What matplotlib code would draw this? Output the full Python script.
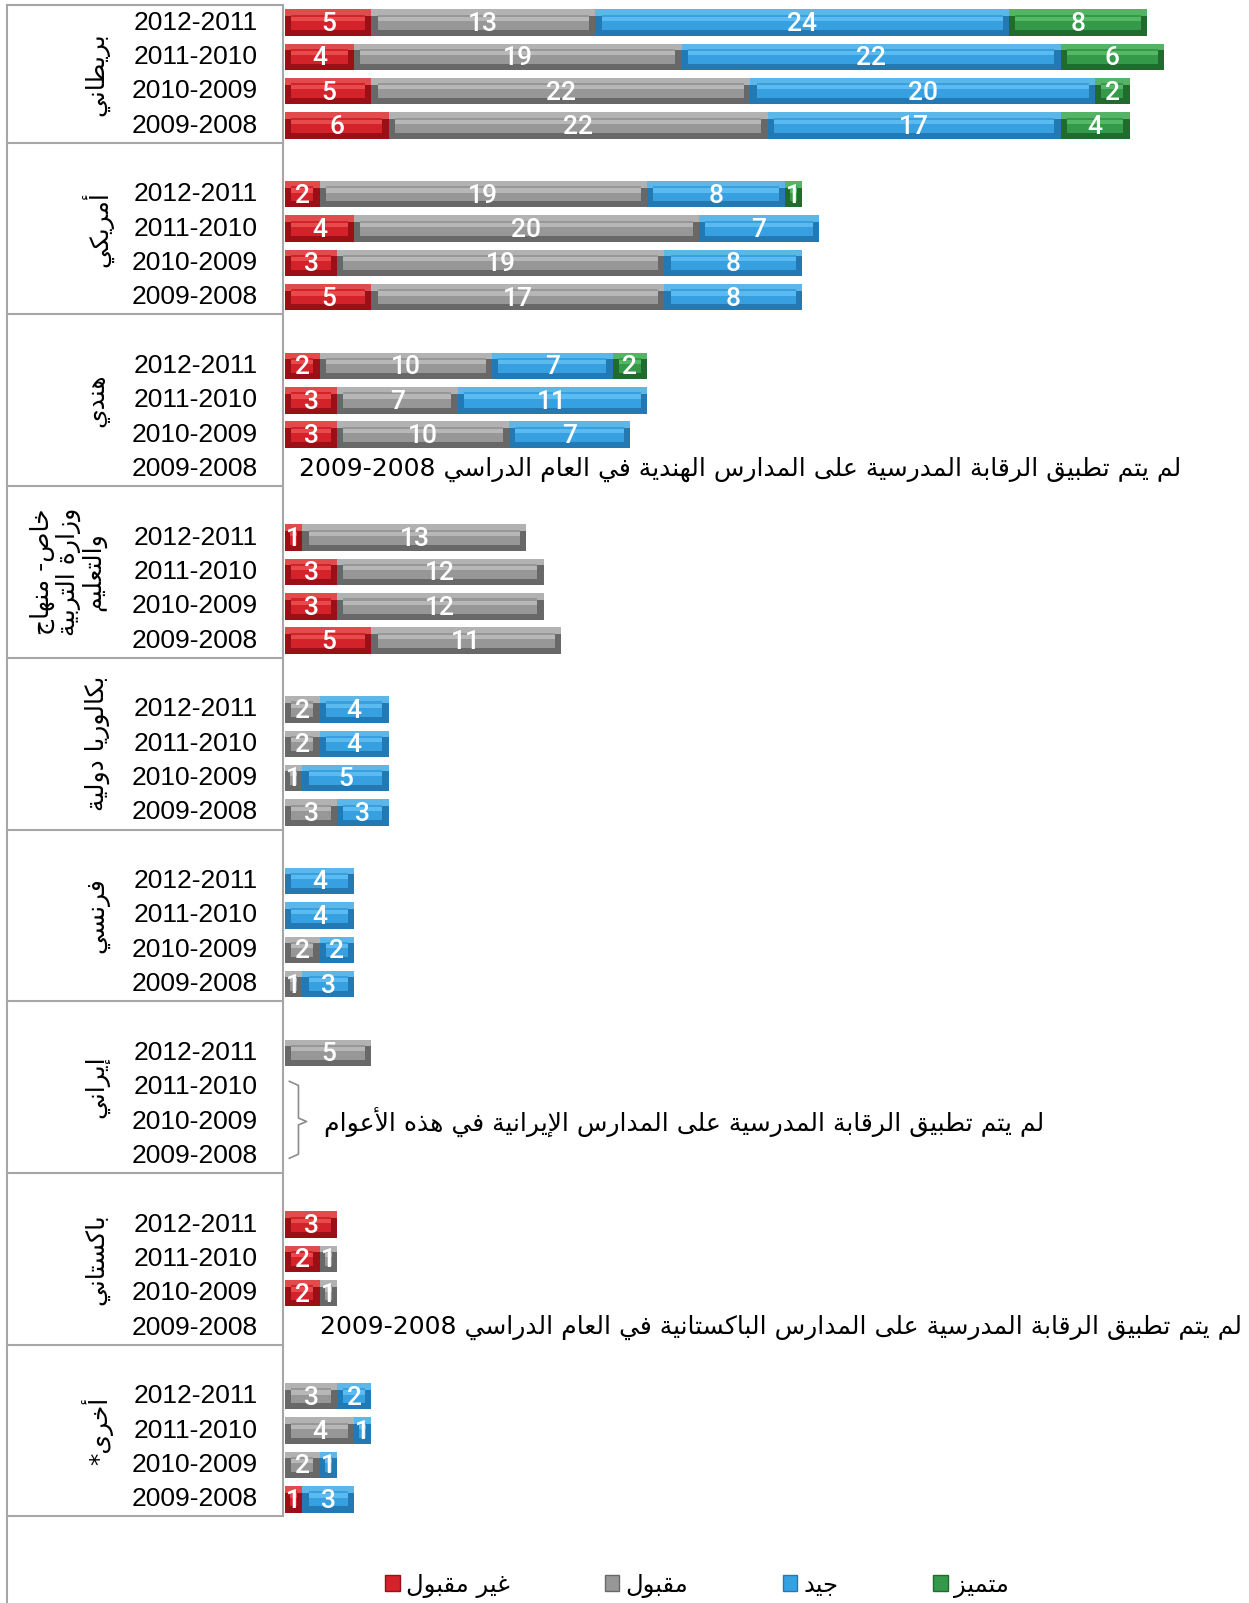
import re
import matplotlib.pyplot as plt
import matplotlib.patches as mpatches

groups = ['بريطاني', 'أمريكي', 'هندي', 'خاص- منهاج\nوزارة التربية\nوالتعليم',
          'بكالوريا دولية', 'فرنسي', 'إيراني', 'باكستاني', 'أخرى*']
years = ['2012-2011', '2011-2010', '2010-2009', '2009-2008']
categories = ['غير مقبول', 'مقبول', 'جيد', 'متميز']

# one row of 4 values (years top to bottom) per group
unacceptable = [[5, 4, 5, 6], [2, 4, 3, 5], [2, 3, 3, 0], [1, 3, 3, 5], [0, 0, 0, 0],
                [0, 0, 0, 0], [0, 0, 0, 0], [3, 2, 2, 0], [0, 0, 0, 1]]
acceptable = [[13, 19, 22, 22], [19, 20, 19, 17], [10, 7, 10, 0], [13, 12, 12, 11], [2, 2, 1, 3],
              [0, 0, 2, 1], [5, 0, 0, 0], [0, 1, 1, 0], [3, 4, 2, 0]]
good = [[24, 22, 20, 17], [8, 7, 8, 8], [7, 11, 7, 0], [0, 0, 0, 0], [4, 4, 5, 3],
        [4, 4, 2, 3], [0, 0, 0, 0], [0, 0, 0, 0], [2, 1, 1, 3]]
outstanding = [[8, 6, 2, 4], [1, 0, 0, 0], [2, 0, 0, 0], [0, 0, 0, 0], [0, 0, 0, 0],
               [0, 0, 0, 0], [0, 0, 0, 0], [0, 0, 0, 0], [0, 0, 0, 0]]

note_india = 'لم يتم تطبيق الرقابة المدرسية على المدارس الهندية في العام الدراسي 2009-2008'
note_iran = 'لم يتم تطبيق الرقابة المدرسية على المدارس الإيرانية في هذه الأعوام'
note_pakistan = 'لم يتم تطبيق الرقابة المدرسية على المدارس الباكستانية في العام الدراسي 2009-2008'

# matplotlib does no arabic shaping, so map letters to presentation forms and reverse
DUAL = dict(zip('بتثجحخسشصضطظعغفقكلمنهيئ',
                [0xFE8F, 0xFE95, 0xFE99, 0xFE9D, 0xFEA1, 0xFEA5, 0xFEB1, 0xFEB5, 0xFEB9, 0xFEBD,
                 0xFEC1, 0xFEC5, 0xFEC9, 0xFECD, 0xFED1, 0xFED5, 0xFED9, 0xFEDD, 0xFEE1, 0xFEE5,
                 0xFEE9, 0xFEF1, 0xFE89]))
RIGHT = dict(zip('آأؤإاةدذرزوى',
                 [0xFE81, 0xFE83, 0xFE85, 0xFE87, 0xFE8D, 0xFE93, 0xFEA9, 0xFEAB, 0xFEAD, 0xFEAF,
                  0xFEED, 0xFEEF]))
LAMALEF = dict(zip('آأإا', [0xFEF5, 0xFEF7, 0xFEF9, 0xFEFB]))


def shape(s):
    out = []
    i = 0
    while i < len(s):
        c = s[i]
        prev_joins = i > 0 and s[i - 1] in DUAL
        nxt = s[i + 1] if i + 1 < len(s) else ''
        if c == 'ل' and nxt in LAMALEF:
            out.append(chr(LAMALEF[nxt] + (1 if prev_joins else 0)))
            i += 2
            continue
        if c in DUAL:
            next_joins = nxt in DUAL or nxt in RIGHT
            off = {(False, False): 0, (True, False): 1, (False, True): 2, (True, True): 3}[(prev_joins, next_joins)]
            out.append(chr(DUAL[c] + off))
        elif c in RIGHT:
            out.append(chr(RIGHT[c] + (1 if prev_joins else 0)))
        else:
            out.append(c)
        i += 1
    return ''.join(out)


def rtl(text):
    lines = []
    for line in text.split('\n'):
        v = shape(line)[::-1]
        v = re.sub(r'[0-9]+(?:-[0-9]+)*', lambda m: m.group(0)[::-1], v)
        lines.append(v)
    return '\n'.join(lines)


series = [unacceptable, acceptable, good, outstanding]
base_colors = ['#d3222a', '#979797', '#36a0e0', '#35994a']
light_colors = ['#f25a5a', '#c6c6c6', '#6cc6f6', '#62c673']
dark_colors = ['#9a1016', '#686868', '#2379b4', '#226b2e']

fig = plt.figure(figsize=(12.49, 16.03), dpi=100)
ax = fig.add_axes([0, 0, 1, 1])
ax.set_xlim(-16.55, 55.93)
ax.set_ylim(47.02, 0.344)
ax.axis('off')

ngroups = len(groups)
slots = [5 * g + 1 + j for g in range(ngroups) for j in range(len(years))]

lefts = [0] * len(slots)
bar_h = 0.77
for k, data in enumerate(series):
    vals = [v for row in data for v in row]
    ys = [s for s, v in zip(slots, vals) if v > 0]
    ws = [v for v in vals if v > 0]
    ls = [l for l, v in zip(lefts, vals) if v > 0]
    ins = [min(0.36, w * 0.3) for w in ws]
    # bevelled look: darker frame, lighter top edge, flat middle, highlight band
    ax.barh(ys, ws, left=ls, height=bar_h, color=dark_colors[k], linewidth=0)
    ax.barh([y - 0.29 for y in ys], ws, left=ls, height=0.19, color=light_colors[k],
            linewidth=0, alpha=0.8)
    ax.barh([y - 0.01 for y in ys], [w - 2 * d for w, d in zip(ws, ins)],
            left=[l + d for l, d in zip(ls, ins)], height=0.44, color=base_colors[k], linewidth=0)
    ax.barh([y - 0.11 for y in ys], [w - 2 * d for w, d in zip(ws, ins)],
            left=[l + d for l, d in zip(ls, ins)], height=0.12, color=light_colors[k],
            linewidth=0, alpha=0.7)
    for y, w, l in zip(ys, ws, ls):
        ax.text(l + w / 2, y + 0.04, str(w), ha='center', va='center', color='white',
                fontsize=19, family='Roboto', fontweight='medium')
    lefts = [l + v for l, v in zip(lefts, vals)]

# left panel with group and year labels
line_c = '#a6a6a6'
x_left, x_right = -16.14, -0.12
ax.plot([x_left, x_left], [0.5, 47.02], color=line_c, lw=1.5, clip_on=False)
ax.plot([x_right, x_right], [0.5, 5 * ngroups - 0.5], color=line_c, lw=1.5)
for g in range(ngroups + 1):
    yb = 0.5 if g == 0 else 5 * g - 0.5
    ax.plot([x_left, x_right], [yb, yb], color=line_c, lw=1.5)

for g, name in enumerate(groups):
    yc = 2.5 if g == 0 else 5 * g + 2
    ax.text(-10.92 if '\n' not in name else -12.6, yc, rtl(name), rotation=90, ha='center',
            va='center', fontsize=18, family='DejaVu Sans', linespacing=1.0)
    for j, yr in enumerate(years):
        ax.text(-1.6, 5 * g + 1 + j, yr, ha='right', va='center', fontsize=19,
                family='Liberation Sans')

# notes for missing years
ax.text(52.0, 5 * 2 + 1 + 3, rtl(note_india), ha='right', va='center', fontsize=18,
        family='DejaVu Sans')
ax.text(55.5, 5 * 7 + 1 + 3, rtl(note_pakistan), ha='right', va='center', fontsize=18,
        family='DejaVu Sans')
ax.text(44.07, 5 * 6 + 1 + 2, rtl(note_iran), ha='right', va='center', fontsize=18,
        family='DejaVu Sans')
y_top, y_mid, y_bot = 5 * 6 + 1 + 1, 5 * 6 + 1 + 2, 5 * 6 + 1 + 3
ax.plot([0.24, 0.77, 0.77, 1.24, 0.77, 0.77, 0.24],
        [y_top - 0.17, y_top - 0.05, y_mid - 0.1, y_mid, y_mid + 0.1, y_bot - 0.05, y_bot + 0.07],
        color='#8c8c8c', lw=1.2)

handles = [mpatches.Patch(facecolor=base_colors[k], edgecolor=dark_colors[k]) for k in range(4)]
fig.legend(handles, [rtl(c) for c in categories], loc='center', bbox_to_anchor=(0.558, 0.0112),
           ncol=4, frameon=False, prop={'family': 'DejaVu Sans', 'size': 17.5},
           handlelength=0.6, handleheight=0.6, handletextpad=0.25, columnspacing=3.9)

plt.savefig('out.png', dpi=100)
